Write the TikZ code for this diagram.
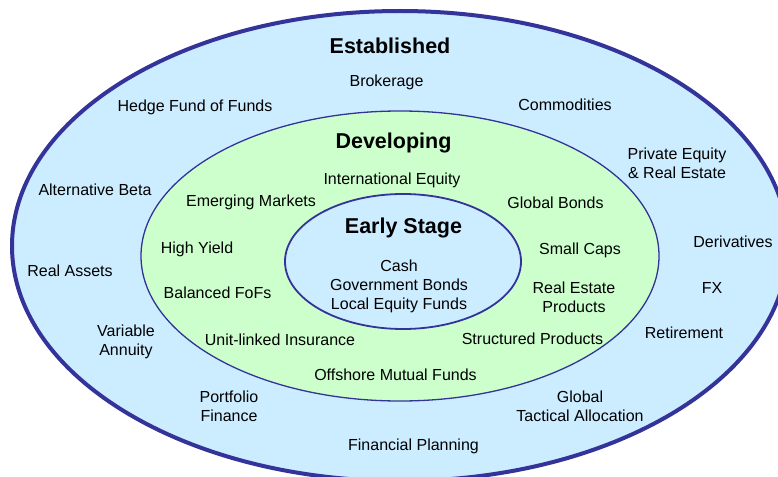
\documentclass[tikz,border=0pt]{standalone}
\usepackage{fontspec}
\setmainfont{Liberation Sans}

\definecolor{ringblue}{HTML}{CCECFF}
\definecolor{ringgreen}{HTML}{CCFFCC}
\definecolor{ringedge}{HTML}{333399}

\tikzset{
  item/.style={align=center, inner sep=0pt, yshift=-2.5pt, font=\fontsize{16}{19}\selectfont},
  stagetitle/.style={inner sep=0pt, yshift=-1pt, font=\fontsize{21.5}{25}\selectfont\bfseries},
}

\begin{document}
\begin{tikzpicture}[x=1pt, y=-1pt]
  \useasboundingbox (0,0) rectangle (778,476);

  % three nested stages, the outer one runs off the page on the right and bottom
  \begin{scope}
    \clip (0,0) rectangle (778,476);
    \draw[ringedge, line width=4pt, fill=ringblue] (400,246) ellipse (388 and 235);
  \end{scope}
  \draw[ringedge, line width=1.3pt, fill=ringgreen] (400,256) ellipse (259 and 145);
  \draw[ringedge, line width=1.8pt, fill=ringblue] (403,261.5) ellipse (118 and 67.5);

  % outer ring
  \node[stagetitle] (established) at (390,45) {Established};
  \node[item] (brokerage) at (386.5,80) {Brokerage};
  \node[item] (hedgefof) at (195,105) {Hedge Fund of Funds};
  \node[item] (commodities) at (565,102) {Commodities};
  \node[item] (privateeq) at (677,161) {Private Equity\\\& Real Estate};
  \node[item] (altbeta) at (95,187) {Alternative Beta};
  \node[item] (derivatives) at (733,239) {Derivatives};
  \node[item] (realassets) at (70,268) {Real Assets};
  \node[item] (fx) at (712,285) {FX};
  \node[item] (varannuity) at (126,339) {Variable\\Annuity};
  \node[item] (retirement) at (684,330) {Retirement};
  \node[item] (portfolio) at (229,404) {Portfolio\\Finance};
  \node[item] (tactical) at (580,404) {Global\\Tactical Allocation};
  \node[item] (planning) at (413.5,444) {Financial Planning};

  % middle ring
  \node[stagetitle] (developing) at (393.5,142) {Developing};
  \node[item] (intlequity) at (392,178) {International Equity};
  \node[item] (emerging) at (251,200) {Emerging Markets};
  \node[item] (globalbonds) at (555.5,200) {Global Bonds};
  \node[item] (highyield) at (197,247) {High Yield};
  \node[item] (smallcaps) at (580,248) {Small Caps};
  \node[item] (balanced) at (217.5,290) {Balanced FoFs};
  \node[item] (realestate) at (574,295) {Real Estate\\Products};
  \node[item] (unitlinked) at (280,337) {Unit-linked Insurance};
  \node[item] (structured) at (532.5,336) {Structured Products};
  \node[item] (offshore) at (395.5,372) {Offshore Mutual Funds};

  % inner ring
  \node[stagetitle] (early) at (403.5,227) {Early Stage};
  \node[item] (basics) at (399,284) {Cash\\Government Bonds\\Local Equity Funds};
\end{tikzpicture}
\end{document}
